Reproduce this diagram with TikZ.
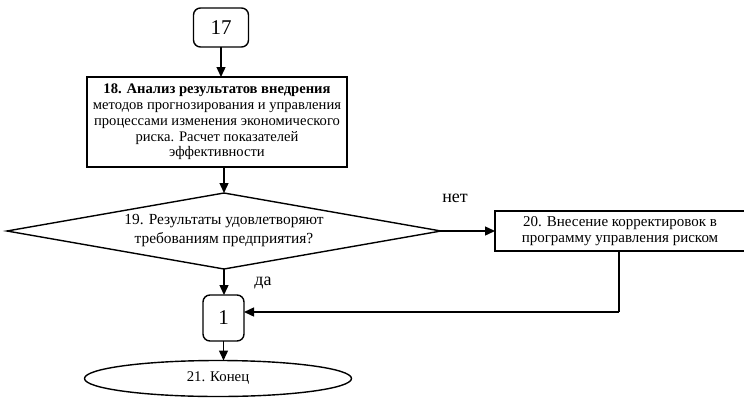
\documentclass[tikz,border=0pt]{standalone}
\usepackage{fontspec}
\setmainfont{Liberation Serif}
\usetikzlibrary{shapes.geometric,arrows.meta}
\begin{document}
\begin{tikzpicture}[x=1pt,y=-1pt,
  every node/.style={inner sep=0pt, outer sep=0pt},
  conn/.style={draw, line width=1.4pt},
  box/.style={draw, line width=1.6pt, align=center},
  link/.style={line width=1.4pt, -{Triangle[length=10pt,width=9pt]}},
  plain/.style={line width=1.4pt},
  lbl/.style={font=\fontsize{18}{20}\selectfont}]
\useasboundingbox (0,0) rectangle (744,399);
\node[conn, minimum width=55pt, minimum height=39pt, rounded corners=7pt, font=\fontsize{21}{23}\selectfont] (n17) at (221,27.5) {17};
\node[box, minimum width=260pt, minimum height=90pt, font=\fontsize{14.6}{15.8}\selectfont] (n18) at (217,122)
  {\textbf{18. Анализ результатов внедрения}\\методов прогнозирования и управления\\процессами изменения экономического\\риска. Расчет показателей\\эффективности};
\node[draw, diamond, line width=1.4pt, minimum width=434pt, minimum height=76pt, aspect=5.7, align=center, font=\fontsize{15.4}{19}\selectfont] (n19) at (224,231)
  {19. Результаты удовлетворяют\\требованиям предприятия?};
\node[box, minimum width=250pt, minimum height=40pt, font=\fontsize{15}{16.5}\selectfont] (n20) at (620,231)
  {20. Внесение корректировок в\\программу управления  риском};
\node[conn, minimum width=41pt, minimum height=46pt, rounded corners=7pt, font=\fontsize{21}{23}\selectfont] (n1) at (223.5,318) {1};
\node[draw, ellipse, line width=1.4pt, minimum width=267pt, minimum height=36pt, font=\fontsize{14.8}{16}\selectfont] (n21) at (218,378.5) {21. Конец};
\node[lbl] (no) at (455,198) {нет};
\node[lbl] (yes) at (263,283) {да};
\coordinate (turn) at (619,312);
\draw[link] (n17.south) -- (n17.south |- n18.north);
\draw[link] (n19.north |- n18.south) -- (n19.north);
\draw[link] (n19.east) -- (n19.east -| n20.west);
\draw[link] (n19.south) -- (n19.south |- n1.north);
\draw[link] (n1.south) -- (n1.south |- n21.north);
\draw[plain] (n20.south -| turn) -- (turn);
\draw[link] (turn) -- (n1.east |- turn);
\end{tikzpicture}
\end{document}
